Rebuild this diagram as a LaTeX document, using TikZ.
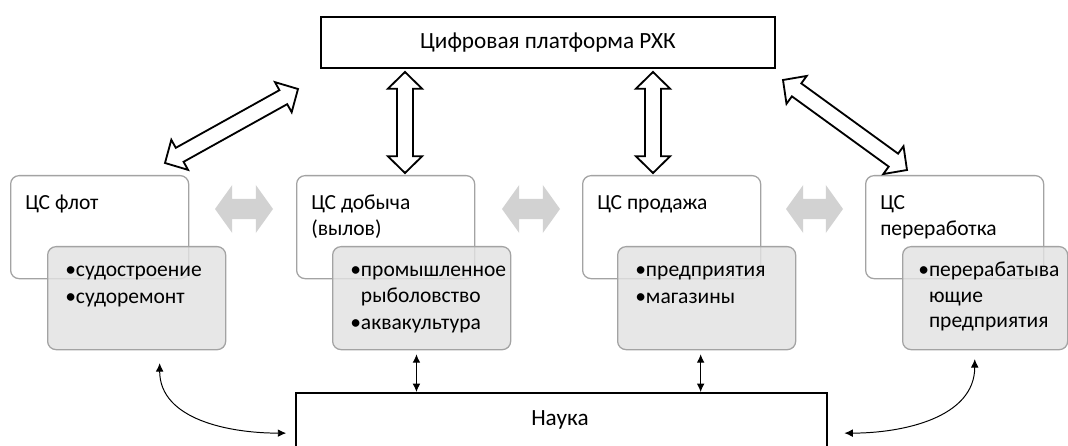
\documentclass[tikz,border=0pt]{standalone}
\usepackage{fontspec}
\setmainfont{Carlito}
\usetikzlibrary{calc,arrows.meta}

\definecolor{boxline}{HTML}{A3A3A3}
\definecolor{listfill}{HTML}{E2E2E2}
\definecolor{peergray}{HTML}{D2D2D2}

% double arrow drawn as one polygon: style, from, to, head length, head half width, shaft half width
\newcommand{\dbllink}[6]{%
  \path[#1] (#2)
    -- ($(#2)!#4!(#3)!#5!90:(#3)$)
    -- ($(#2)!#4!(#3)!#6!90:(#3)$)
    -- ($(#3)!#4!(#2)!#6!-90:(#2)$)
    -- ($(#3)!#4!(#2)!#5!-90:(#2)$)
    -- (#3)
    -- ($(#3)!#4!(#2)!#5!90:(#2)$)
    -- ($(#3)!#4!(#2)!#6!90:(#2)$)
    -- ($(#2)!#4!(#3)!#6!-90:(#3)$)
    -- ($(#2)!#4!(#3)!#5!-90:(#3)$)
    -- cycle;}

\tikzset{
  mainbox/.style={draw=black, line width=1.3pt, inner sep=0pt, anchor=north west},
  csbox/.style={draw=boxline, line width=0.9pt, rounded corners=6pt, fill=white,
    minimum width=4.45cm, minimum height=2.575cm, anchor=north west},
  listbox/.style={draw=boxline, line width=0.9pt, rounded corners=6pt, fill=listfill,
    fill opacity=0.82, minimum width=4.45cm, minimum height=2.575cm, anchor=north west},
  cstitle/.style={anchor=north west, inner sep=0pt, align=left},
  bigtext/.style={font=\fontsize{16.5pt}{19pt}\selectfont},
  hollow/.style={draw=black, fill=white, line width=1.3pt, line join=miter},
  peer/.style={fill=peergray},
  link/.style={{Latex[length=6pt,width=5.5pt]}-{Latex[length=6pt,width=5.5pt]}, line width=0.7pt}
}

\begin{document}
\begin{tikzpicture}[x=0.025cm, y=-0.025cm, every node/.style={font=\fontsize{15.3pt}{18pt}\selectfont}]
    \useasboundingbox (0,0) rectangle (1068,446);

    % platform and science
    \node[mainbox, minimum width=11.35cm, minimum height=1.275cm] (plat) at (320,16) {};
    \node[bigtext] at (plat.center) {Цифровая платформа РХК};
    \node[mainbox, line width=1.6pt, minimum width=13.275cm, minimum height=2cm] (nauka) at (295,392) {};
    \node[bigtext] at (560,420) {Наука};

    % clusters
    \node[csbox] (flot) at (10,175) {};
    \node[csbox] (dob) at (296,175) {};
    \node[csbox] (prod) at (582,175) {};
    \node[csbox] (pere) at (865,175) {};

    \node[cstitle] at ([shift={(15,17)}]flot.north west) {\strut ЦС флот};
    \node[cstitle] at ([shift={(15,17)}]dob.north west) {\strut ЦС добыча\\(вылов)};
    \node[cstitle] at ([shift={(15,17)}]prod.north west) {\strut ЦС продажа};
    \node[cstitle] at ([shift={(15,17)}]pere.north west) {\strut ЦС\\переработка};

    % lists
    \node[listbox] (flotL) at (47,246) {};
    \node[listbox] (dobL) at (332,246) {};
    \node[listbox] (prodL) at (617,246) {};
    \node[listbox, minimum width=4.125cm] (pereL) at (902,246) {};

    \node[cstitle] at ([shift={(18,13)}]flotL.north west) {\strut•судостроение\\[1pt]•судоремонт};
    \node[cstitle] at ([shift={(18,13)}]dobL.north west) {\strut•промышленное\\\phantom{•}рыболовство\\[1pt]•аквакультура};
    \node[cstitle] at ([shift={(18,13)}]prodL.north west) {\strut•предприятия\\[1pt]•магазины};
    \node[cstitle] at ([shift={(16,13)}]pereL.north west) {\strut•перерабатыва\\\phantom{•}ющие\\\phantom{•}предприятия};

    % links between clusters
    \coordinate (pa1) at (215,209);
    \coordinate (pb1) at (273,209);
    \coordinate (pa2) at (502,209);
    \coordinate (pb2) at (560,209);
    \coordinate (pa3) at (786,209);
    \coordinate (pb3) at (843,209);
    \dbllink{peer}{pa1}{pb1}{0.43cm}{0.6cm}{0.25cm}
    \dbllink{peer}{pa2}{pb2}{0.43cm}{0.6cm}{0.25cm}
    \dbllink{peer}{pa3}{pb3}{0.43cm}{0.6cm}{0.25cm}

    % links to the platform
    \coordinate (flotT) at (165,163);
    \coordinate (platA) at (298,89);
    \coordinate (dobT) at (405,173);
    \coordinate (platB) at (405,72);
    \coordinate (prodT) at (653,173);
    \coordinate (platC) at (653,72);
    \coordinate (pereT) at (907,170);
    \coordinate (platD) at (783,80);
    \dbllink{hollow}{flotT}{platA}{0.42cm}{0.43cm}{0.2cm}
    \dbllink{hollow}{dobT}{platB}{0.42cm}{0.43cm}{0.2cm}
    \dbllink{hollow}{prodT}{platC}{0.42cm}{0.43cm}{0.2cm}
    \dbllink{hollow}{pereT}{platD}{0.42cm}{0.43cm}{0.2cm}

    % links to science
    \draw[link] ([xshift=-0.13cm, yshift=-0.1cm]dobL.south) -- ([xshift=-0.13cm]dobL.south |- nauka.north);
    \draw[link] ([xshift=-0.15cm, yshift=-0.1cm]prodL.south) -- ([xshift=-0.15cm]prodL.south |- nauka.north);
    \draw[link] ([xshift=0.575cm, yshift=-0.32cm]flotL.south) to[out=-90, in=180] ([xshift=-0.22cm]nauka.west);
    \draw[link] ([xshift=0.4cm]nauka.east) to[out=0, in=-90] ([xshift=-0.26cm, yshift=-0.22cm]pereL.south);
\end{tikzpicture}
\end{document}
